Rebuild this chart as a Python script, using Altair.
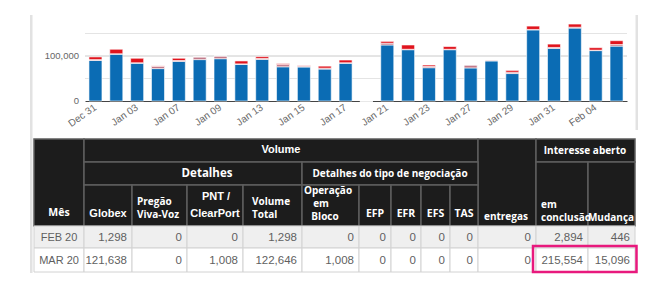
import altair as alt
import pandas as pd

# ---------------- bar chart data (daily volume, contracts) ----------------
dates = ["Dec 31", "Jan 02", "Jan 03", "Jan 06", "Jan 07", "Jan 08", "Jan 09", "Jan 10",
         "Jan 13", "Jan 14", "Jan 15", "Jan 16", "Jan 17", "Jan 20", "Jan 21", "Jan 22",
         "Jan 23", "Jan 24", "Jan 27", "Jan 28", "Jan 29", "Jan 30", "Jan 31", "Feb 03",
         "Feb 04", "Feb 05"]
shown_dates = dates[::2]
globex_daily = [90000, 104000, 84000, 72000, 88000, 92000, 94000, 81500, 92500, 76000,
                75500, 71000, 84000, 0, 124500, 114000, 74000, 114000, 73500, 89000,
                61000, 158000, 117000, 162000, 112000, 122000]
other_daily = [2000, 1000, 1000, 5000, 2000, 6000, 6000, 1000, 2000, 5000,
               2000, 2000, 1000, 0, 4000, 1000, 3000, 1000, 6500, 2000,
               3000, 1000, 2000, 2000, 1000, 3500]
clearport_daily = [6000, 10000, 10000, 1000, 5000, 0, 0, 6500, 4000, 2000,
                   1000, 4500, 6000, 0, 4000, 9500, 3000, 6000, 0, 0,
                   4000, 7500, 7500, 7000, 5500, 8500]
series_names = ["Globex", "Outros", "ClearPort"]
series_colors = ["#0b6cb4", "#c27b8b", "#e0141d"]
y_grid_values = [50000, 100000, 150000]
y_grid_colors = ["#e4e4e4", "#cacaca", "#e4e4e4"]
y_label_values = [0, 100000]
Y_DOMAIN = [0, 200000]

# ---------------- table data ----------------
months = ["FEB 20", "MAR 20"]
col_globex = [1298, 121638]
col_pregao = [0, 0]
col_pnt = [0, 1008]
col_vol_total = [1298, 122646]
col_bloco = [0, 1008]
col_efp = [0, 0]
col_efr = [0, 0]
col_efs = [0, 0]
col_tas = [0, 0]
col_entregas = [0, 0]
col_oi = [2894, 215554]
col_mudanca = [446, 15096]
value_cols = [col_globex, col_pregao, col_pnt, col_vol_total, col_bloco, col_efp,
              col_efr, col_efs, col_tas, col_entregas, col_oi, col_mudanca]

# header labels (label, x, y) -- layout of the header
hdr_sans_center = [("Volume", 281, 150), ("Globex", 108, 214), ("PNT /", 216, 197),
                   ("ClearPort", 215, 214)]
hdr_bold_center = [("Mês", 59, 213, 10.5), ("Detalhes", 207, 174, 11.5),
                   ("Detalhes do tipo de negociação", 390, 174, 10),
                   ("Interesse aberto", 585, 151, 10), ("Operação", 328, 191, 10),
                   ("em", 321, 204, 10), ("Bloco", 325, 217, 10), ("EFP", 375, 214, 10.5),
                   ("EFR", 406, 214, 10.5), ("EFS", 435.5, 214, 10.5), ("TAS", 464, 214, 10.5),
                   ("Mudança", 611, 218, 10)]
hdr_bold_left = [("Pregão", 137, 202), ("Viva-Voz", 137, 215), ("Volume", 252, 202),
                 ("Total", 252, 215), ("entregas", 484, 217), ("em", 541, 205),
                 ("conclusão", 541, 218)]

# ---------------- layout ----------------
W, H = 653, 291
PL, PT, PR, PB = 85, 11, 26, 190
COL_EDGES = [34, 84, 132, 187, 243, 302, 359, 391, 421, 450, 478, 536, 588, 635]
ROW_EDGES = [139, 162, 185, 226, 248, 272]
# header cells: (col_start, col_end, row_start, row_end)
HDR_CELLS = [(0, 1, 0, 3), (1, 10, 0, 1), (10, 11, 0, 3), (11, 13, 0, 1),
             (1, 5, 1, 2), (5, 10, 1, 2), (11, 12, 1, 3), (12, 13, 1, 3)] + \
            [(c, c + 1, 2, 3) for c in range(1, 10)]

SX = alt.Scale(domain=[0, W], range=[-PL, W - PL], nice=False, zero=False)
SY = alt.Scale(domain=[0, H], range=[-PT, H - PT], nice=False, zero=False)


def PX(f):
    return alt.X(f + ":Q", scale=SX, axis=None)


def PY(f):
    return alt.Y(f + ":Q", scale=SY, axis=None)


# ---------------- bars ----------------
bar_rows = []
for i, d in enumerate(dates):
    for o, (s, vals) in enumerate(zip(series_names, [globex_daily, other_daily, clearport_daily])):
        bar_rows.append({"date": d, "series": s, "value": vals[i], "ord": o})
bar_df = pd.DataFrame(bar_rows)

YS = alt.Scale(domain=Y_DOMAIN, nice=False, zero=True)

grid_df = pd.DataFrame({"value": y_grid_values, "c": y_grid_colors})
grid = alt.Chart(grid_df).mark_rule(strokeWidth=1).encode(
    y=alt.Y("value:Q", scale=YS, axis=None),
    color=alt.Color("c:N", scale=None),
)
ylab_df = pd.DataFrame({"value": y_label_values, "t": [f"{v:,}" for v in y_label_values]})
ylabels = alt.Chart(ylab_df).mark_text(
    align="right", baseline="middle", font="Liberation Sans", fontSize=9.5, color="#666", dx=-6
).encode(x=alt.value(0), y=alt.Y("value:Q", scale=YS, axis=None), text="t:N")

bars = alt.Chart(bar_df).mark_bar(stroke="white", strokeWidth=0.6).encode(
    x=alt.X("date:N", sort=dates,
            scale=alt.Scale(paddingInner=0.376, paddingOuter=0.19),
            axis=alt.Axis(values=shown_dates, title=None, labelAngle=325, labelAlign="right",
                          labelBaseline="middle", labelPadding=5, ticks=False,
                          domainColor="#444", domainWidth=1, labelColor="#666",
                          labelFontSize=10, labelFont="Liberation Sans", grid=False)),
    y=alt.Y("value:Q", stack="zero", scale=YS, axis=None),
    color=alt.Color("series:N", scale=alt.Scale(domain=series_names, range=series_colors), legend=None),
    order=alt.Order("ord:Q"),
)
bar_part = alt.layer(grid, ylabels, bars)

# ---------------- frame strips ----------------
frame_df = pd.DataFrame([{"x0": 30, "x1": 32.5, "y0": 15, "y1": 273},
                         {"x0": 635.5, "x1": 638, "y0": 15, "y1": 130}])
frame = alt.Chart(frame_df).mark_rect(fill="#e2e2e2").encode(
    x=PX("x0"), x2="x1", y=PY("y0"), y2="y1")

# ---------------- header cells ----------------
hc_df = pd.DataFrame([{"x0": COL_EDGES[a], "x1": COL_EDGES[b], "y0": ROW_EDGES[r0], "y1": ROW_EDGES[r1]}
                      for a, b, r0, r1 in HDR_CELLS])
hrects = alt.Chart(hc_df).mark_rect(fill="#1c1c1c", stroke="#5e5e5e", strokeWidth=1.5).encode(
    x=PX("x0"), x2="x1", y=PY("y0"), y2="y1")

# ---------------- body cells ----------------
body_rect_rows, body_num_rows, body_month_rows = [], [], []
for r, m in enumerate(months):
    y0, y1 = ROW_EDGES[3 + r], ROW_EDGES[4 + r]
    bg = "#efefef" if r == 0 else "#ffffff"
    for c in range(13):
        body_rect_rows.append({"x0": COL_EDGES[c], "x1": COL_EDGES[c + 1], "y0": y0, "y1": y1, "bg": bg})
    body_month_rows.append({"x": (COL_EDGES[0] + COL_EDGES[1]) / 2, "y": (y0 + y1) / 2 + 0.5, "t": m})
    for c, col in enumerate(value_cols):
        body_num_rows.append({"x": COL_EDGES[c + 2] - 5, "y": (y0 + y1) / 2 + 0.5, "t": f"{col[r]:,}"})

brects = alt.Chart(pd.DataFrame(body_rect_rows)).mark_rect(stroke="#d2d2d2", strokeWidth=1).encode(
    x=PX("x0"), x2="x1", y=PY("y0"), y2="y1", fill=alt.Fill("bg:N", scale=None))

bnums = alt.Chart(pd.DataFrame(body_num_rows)).mark_text(
    font="Liberation Sans", fontSize=11.5, color="#5f5f5f", align="right", baseline="middle").encode(
    x=PX("x"), y=PY("y"), text="t:N")
bmonths = alt.Chart(pd.DataFrame(body_month_rows)).mark_text(
    font="Liberation Sans", fontSize=11, color="#5f5f5f", align="center", baseline="middle").encode(
    x=PX("x"), y=PY("y"), text="t:N")

# ---------------- header texts ----------------
ht_sans = alt.Chart(pd.DataFrame(hdr_sans_center, columns=["t", "x", "y"])).mark_text(
    font="Liberation Sans", fontWeight="bold", fontSize=11, color="white", align="center",
    baseline="middle").encode(
    x=PX("x"), y=PY("y"), text="t:N")
ht_bc = alt.Chart(pd.DataFrame(hdr_bold_center, columns=["t", "x", "y", "s"])).mark_text(
    font="Open Sans", fontWeight="bold", color="white", align="center", baseline="middle").encode(
    x=PX("x"), y=PY("y"), text="t:N", size=alt.Size("s:Q", scale=None))
ht_bl = alt.Chart(pd.DataFrame(hdr_bold_left, columns=["t", "x", "y"])).mark_text(
    font="Open Sans", fontWeight="bold", fontSize=10, color="white", align="left", baseline="middle").encode(
    x=PX("x"), y=PY("y"), text="t:N")

# ---------------- highlight box ----------------
hl_df = pd.DataFrame([{"x0": COL_EDGES[11] - 3, "x1": COL_EDGES[13] + 1.5,
                       "y0": ROW_EDGES[4] - 2, "y1": ROW_EDGES[5]}])
highlight = alt.Chart(hl_df).mark_rect(fill="white", fillOpacity=0, stroke="#e8197d", strokeWidth=2.5).encode(
    x=PX("x0"), x2="x1", y=PY("y0"), y2="y1")

chart = alt.layer(frame, bar_part, hrects, brects, bnums, bmonths, ht_sans, ht_bc, ht_bl, highlight).resolve_scale(
    x="independent", y="independent", color="independent"
).properties(
    width=W - PL - PR, height=H - PT - PB,
    autosize=alt.AutoSizeParams(type="none"),
    padding={"left": PL, "top": PT, "right": PR, "bottom": PB},
    background="white",
).configure_view(stroke=None)

chart.save("out.html", embed_options={"renderer": "svg", "actions": False})
